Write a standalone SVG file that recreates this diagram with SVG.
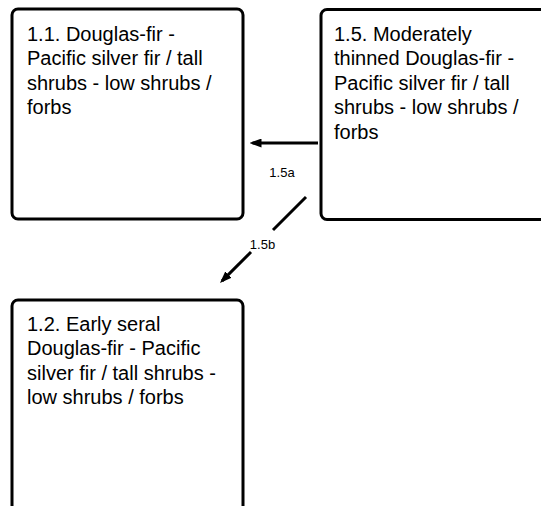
<svg xmlns="http://www.w3.org/2000/svg" width="541" height="506" viewBox="0 0 541 506">
<style>
.box{fill:#fff;stroke:#000;stroke-width:3}
.t{font-family:"Liberation Sans",Arial,sans-serif;font-size:20px;fill:#000}
.l{font-family:"Liberation Sans",Arial,sans-serif;font-size:13px;fill:#000;text-anchor:middle}
.c{stroke:#000;stroke-width:3;fill:none}
</style>
<defs>
<marker id="ah" viewBox="0 0 12 9" refX="9" refY="4.5" markerWidth="12" markerHeight="9" orient="auto" markerUnits="userSpaceOnUse">
<path d="M0,0 L12,4.5 L0,9 z" fill="#000"/>
</marker>
</defs>
<rect width="541" height="506" fill="#fff"/>
<g id="n11">
<rect class="box" x="12" y="9" width="231" height="210" rx="6"/>
<text class="t" x="27" y="41">1.1. Douglas-fir -</text>
<text class="t" x="27" y="65.4">Pacific silver fir / tall</text>
<text class="t" x="27" y="89.8">shrubs - low shrubs /</text>
<text class="t" x="27" y="114.2">forbs</text>
</g>
<g id="n15">
<rect class="box" x="321" y="9.5" width="240" height="210" rx="6"/>
<text class="t" x="334" y="41">1.5. Moderately</text>
<text class="t" x="334" y="65.4">thinned Douglas-fir -</text>
<text class="t" x="334" y="89.8">Pacific silver fir / tall</text>
<text class="t" x="334" y="114.2">shrubs - low shrubs /</text>
<text class="t" x="334" y="138.6">forbs</text>
</g>
<g id="n12">
<rect class="box" x="12" y="300" width="231" height="230" rx="6"/>
<text class="t" x="27" y="331">1.2. Early seral</text>
<text class="t" x="27" y="355.4">Douglas-fir - Pacific</text>
<text class="t" x="27" y="379.8">silver fir / tall shrubs -</text>
<text class="t" x="27" y="404.2">low shrubs / forbs</text>
</g>
<g id="connectors">
<line class="c" x1="318" y1="143" x2="252.5" y2="143" marker-end="url(#ah)"/>
<text class="l" x="282" y="176.5">1.5a</text>
<line class="c" x1="306" y1="197" x2="273" y2="230"/>
<line class="c" x1="251" y1="252" x2="222.1" y2="280.9" marker-end="url(#ah)"/>
<text class="l" x="262.5" y="249">1.5b</text>
</g>
</svg>
